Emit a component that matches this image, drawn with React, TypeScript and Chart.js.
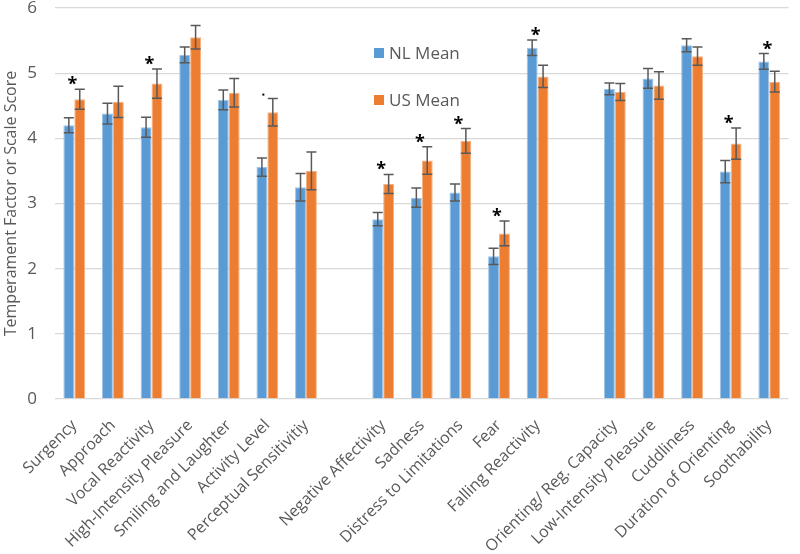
import React, { useEffect, useRef } from "react";
import { Chart, registerables } from "chart.js";

Chart.register(...registerables);

const categories = [
  "Surgency",
  "Approach",
  "Vocal Reactivity",
  "High-Intensity Pleasure",
  "Smiling and Laughter",
  "Activity Level",
  "Perceptual Sensitivitiy",
  "",
  "Negative Affectivity",
  "Sadness",
  "Distress to Limitations",
  "Fear",
  "Falling Reactivity",
  "",
  "Orienting/ Reg. Capacity",
  "Low-Intensity Pleasure",
  "Cuddliness",
  "Duration of Orienting",
  "Soothability",
];

const nlMean = [4.2, 4.38, 4.17, 5.28, 4.59, 3.56, 3.25, null, 2.76, 3.09, 3.17, 2.19, 5.39, null, 4.76, 4.92, 5.43, 3.49, 5.18];
const usMean = [4.6, 4.56, 4.84, 5.55, 4.7, 4.4, 3.5, null, 3.3, 3.66, 3.96, 2.54, 4.95, null, 4.71, 4.81, 5.26, 3.92, 4.87];
const nlErr = [0.115, 0.16, 0.155, 0.12, 0.15, 0.14, 0.21, null, 0.1, 0.146, 0.13, 0.125, 0.12, null, 0.09, 0.15, 0.1, 0.17, 0.12];
const usErr = [0.155, 0.24, 0.225, 0.18, 0.22, 0.21, 0.29, null, 0.146, 0.21, 0.19, 0.19, 0.17, null, 0.13, 0.21, 0.14, 0.24, 0.16];
const significance = ["*", "", "*", "", "", ".", "", "", "*", "*", "*", "*", "*", "", "", "", "", "*", "*"];
const seriesNames = ["NL Mean", "US Mean"];
const yMin = 0;
const yMax = 6;

const BLUE = "#5B9BD5";
const ORANGE = "#ED7D31";
const TEXT = "#595959";
const GRID = "#D9D9D9";
const FONT = "'Open Sans', sans-serif";

const overlayPlugin = {
  id: "overlay",
  afterDatasetsDraw(chart: any) {
    const ctx = chart.ctx;
    const yScale = chart.scales.y;
    const errs = [nlErr, usErr];
    ctx.save();
    // error bars
    ctx.strokeStyle = TEXT;
    ctx.lineWidth = 1.5;
    errs.forEach((errArr, di) => {
      const meta = chart.getDatasetMeta(di);
      const data = chart.data.datasets[di].data;
      meta.data.forEach((el: any, i: number) => {
        const v = data[i];
        const e = errArr[i];
        if (v == null || e == null) return;
        const x = el.x;
        const y1 = yScale.getPixelForValue(v + e);
        const y2 = yScale.getPixelForValue(v - e);
        ctx.beginPath();
        ctx.moveTo(x, y1);
        ctx.lineTo(x, y2);
        ctx.moveTo(x - 5, y1);
        ctx.lineTo(x + 5, y1);
        ctx.moveTo(x - 5, y2);
        ctx.lineTo(x + 5, y2);
        ctx.stroke();
      });
    });
    // significance markers
    const m0 = chart.getDatasetMeta(0);
    const m1 = chart.getDatasetMeta(1);
    significance.forEach((s, i) => {
      if (!s) return;
      const a = nlMean[i];
      const b = usMean[i];
      if (a == null || b == null) return;
      const top = Math.max(a + (nlErr[i] as number), b + (usErr[i] as number));
      const yTop = yScale.getPixelForValue(top);
      const x = (m0.data[i].x + m1.data[i].x) / 2;
      ctx.fillStyle = "#000";
      ctx.textAlign = "center";
      ctx.textBaseline = "alphabetic";
      if (s === "*") {
        ctx.font = "bold 18px " + FONT;
        ctx.fillText("*", x - 2, yTop + 1);
      } else {
        ctx.fillRect(x - 5, yTop - 5, 2, 2);
      }
    });
    // legend
    const lx = 374;
    const ly = [53, 100];
    const cols = [BLUE, ORANGE];
    ctx.font = "17px " + FONT;
    ctx.textAlign = "left";
    ctx.textBaseline = "middle";
    seriesNames.forEach((n, i) => {
      ctx.fillStyle = cols[i];
      ctx.fillRect(lx, ly[i] - 5, 10, 10);
      ctx.fillStyle = TEXT;
      ctx.fillText(n, lx + 15, ly[i] + 1);
    });
    ctx.restore();
  },
};

export default function App() {
  const ref = useRef<HTMLCanvasElement | null>(null);
  useEffect(() => {
    if (!ref.current) return;
    const chart = new Chart(ref.current, {
      type: "bar",
      data: {
        labels: categories,
        datasets: [
          {
            label: seriesNames[0],
            data: nlMean,
            backgroundColor: BLUE,
            borderColor: "#9DC3E6",
            borderWidth: 1,
            categoryPercentage: 0.565,
            barPercentage: 1,
          },
          {
            label: seriesNames[1],
            data: usMean,
            backgroundColor: ORANGE,
            borderColor: "#F4B183",
            borderWidth: 1,
            categoryPercentage: 0.565,
            barPercentage: 1,
          },
        ],
      },
      options: {
        animation: false,
        responsive: true,
        maintainAspectRatio: false,
        layout: { padding: { top: 0, right: 5, left: 2, bottom: 0 } },
        plugins: {
          legend: { display: false },
          tooltip: { enabled: false },
        },
        scales: {
          x: {
            grid: { display: false, drawTicks: false },
            border: { display: false },
            ticks: {
              autoSkip: false,
              maxRotation: 45,
              minRotation: 45,
              padding: 17,
              color: TEXT,
              font: { family: FONT, size: 16 },
            },
            afterFit: (scale: any) => {
              scale.height = 155;
            },
          },
          y: {
            min: yMin,
            max: yMax,
            border: { display: false },
            grid: { color: GRID, lineWidth: 1.3, drawTicks: false },
            ticks: {
              stepSize: 1,
              padding: 18,
              color: TEXT,
              font: { family: FONT, size: 17, lineHeight: 1 },
            },
            title: {
              display: true,
              text: "Temperament Factor or Scale Score",
              color: TEXT,
              font: { family: FONT, size: 16 },
              padding: 0,
            },
            afterFit: (scale: any) => {
              scale.width = 53;
              scale.paddingTop = 8;
              scale.paddingBottom = 0;
            },
          },
        },
      },
      plugins: [overlayPlugin],
    });
    return () => chart.destroy();
  }, []);
  return (
    <div style={{ position: "fixed", left: 0, top: 0, width: 800, height: 554, background: "#fff" }}>
      <canvas ref={ref} />
    </div>
  );
}
